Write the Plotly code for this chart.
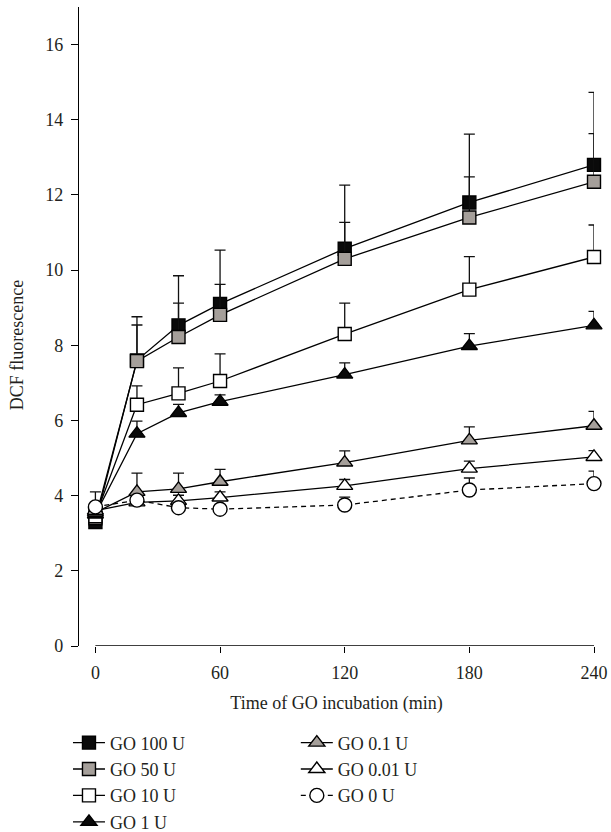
import plotly.graph_objects as go

times = [0, 20, 40, 60, 120, 180, 240]
x_ticks = [0, 60, 120, 180, 240]
y_ticks = [0, 2, 4, 6, 8, 10, 12, 14, 16]

names = ["GO 100 U", "GO 50 U", "GO 10 U", "GO 1 U", "GO 0.1 U", "GO 0.01 U", "GO 0 U"]

go100 = [3.3, 7.6, 8.53, 9.1, 10.57, 11.8, 12.8]
go50 = [3.4, 7.58, 8.22, 8.81, 10.3, 11.4, 12.35]
go10 = [3.45, 6.42, 6.72, 7.05, 8.3, 9.48, 10.35]
go1 = [3.5, 5.65, 6.2, 6.5, 7.22, 7.98, 8.53]
go01 = [3.55, 4.1, 4.18, 4.37, 4.88, 5.47, 5.86]
go001 = [3.6, 3.82, 3.86, 3.95, 4.26, 4.72, 5.03]
go0 = [3.7, 3.88, 3.68, 3.64, 3.75, 4.15, 4.32]

err100 = [0.3, 1.16, 1.32, 1.43, 1.69, 1.82, 1.93]
err50 = [0.3, 0.96, 0.9, 0.81, 0.97, 1.08, 1.28]
err10 = [0.3, 0.5, 0.68, 0.72, 0.82, 0.88, 0.85]
err1 = [0.2, 0.33, 0.23, 0.18, 0.31, 0.33, 0.37]
err01 = [0.2, 0.5, 0.42, 0.33, 0.31, 0.36, 0.38]
err001 = [0.2, 0.15, 0.15, 0.15, 0.17, 0.2, 0.17]
err0 = [0.4, 0.1, 0.1, 0.1, 0.21, 0.32, 0.33]

values = [go100, go50, go10, go1, go01, go001, go0]
errors = [err100, err50, err10, err1, err01, err001, err0]

GREY = "#a59f9a"
symbols = ["square", "square", "square", "triangle-up", "triangle-up", "triangle-up", "circle"]
fills = ["#0a0a0a", GREY, "white", "#0a0a0a", GREY, "white", "white"]
sizes = [13, 13, 13, 14, 14, 14, 14]
dashes = ["solid"] * 6 + ["5px,4px"]
legends = ["legend"] * 4 + ["legend2"] * 3

FONT = "Liberation Serif"
TXT = "#231f20"
FS = 18

fig = go.Figure()
for i in range(len(names)):
    fig.add_trace(go.Scatter(
        x=times, y=values[i], name=names[i], mode="lines+markers",
        line=dict(color="black", width=1.3, dash=dashes[i]),
        marker=dict(symbol=symbols[i], size=sizes[i], color=fills[i],
                    line=dict(color="black", width=1.4)),
        error_y=dict(type="data", symmetric=False, array=errors[i],
                     arrayminus=[0] * len(times), color="#111", thickness=1.3, width=5.5),
        legend=legends[i], cliponaxis=False,
    ))

fig.add_shape(type="line", xref="x", yref="y", x0=x_ticks[0], x1=x_ticks[-1],
              y0=y_ticks[0], y1=y_ticks[0], line=dict(color="black", width=1.3))

fig.add_annotation(text="DCF fluorescence", textangle=-90, xref="paper", yref="y",
                   x=0, y=(y_ticks[0] + y_ticks[-1]) / 2, xshift=-62, xanchor="center",
                   showarrow=False, font=dict(family=FONT, size=FS, color=TXT))

legend_style = dict(font=dict(family=FONT, size=FS, color=TXT), bgcolor="rgba(0,0,0,0)",
                    orientation="v", xanchor="left", yanchor="top", tracegroupgap=0,
                    itemwidth=32)

fig.update_layout(
    width=611, height=832,
    margin=dict(l=79, r=17, t=7, b=186, autoexpand=False),
    paper_bgcolor="white", plot_bgcolor="white",
    font=dict(family=FONT, size=FS, color=TXT),
    xaxis=dict(range=[-7.9, 240], tickvals=x_ticks, ticks="outside", ticklen=6,
               tickwidth=1.3, tickcolor="black", showline=False, showgrid=False,
               zeroline=False, ticklabelstandoff=4,
               title=dict(text="Time of GO incubation (min)", standoff=14,
                          font=dict(family=FONT, size=FS, color=TXT))),
    yaxis=dict(range=[0, 17], tickvals=y_ticks, ticks="outside", ticklen=7,
               tickwidth=1.3, tickcolor="black", showline=True, linecolor="black",
               linewidth=1.3, showgrid=False, zeroline=False, ticklabelstandoff=4),
    legend=dict(x=-0.0214, y=-0.1227, **legend_style),
    legend2=dict(x=0.421, y=-0.1227, **legend_style),
)

fig.write_html("out.html")
